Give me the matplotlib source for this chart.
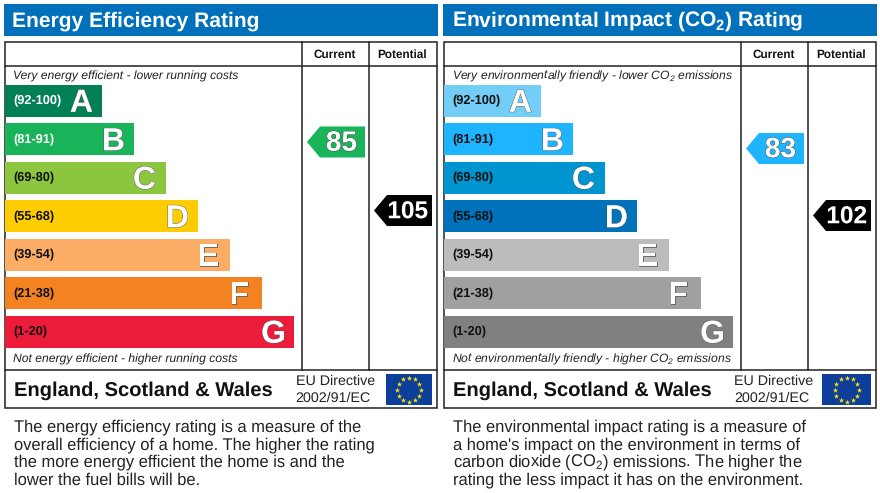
import matplotlib
matplotlib.use("Agg")
import matplotlib.pyplot as plt
import matplotlib.patheffects as pe
from matplotlib.patches import Polygon, Rectangle
import numpy as np

plt.rcParams["font.family"] = ["Liberation Sans", "DejaVu Sans"]
plt.rcParams["mathtext.default"] = "regular"
plt.rcParams["text.hinting"] = "none"

bands = ["(92-100)", "(81-91)", "(69-80)", "(55-68)", "(39-54)", "(21-38)", "(1-20)"]
letters = ["A", "B", "C", "D", "E", "F", "G"]
band_lengths = [97, 129, 161, 193, 225, 257, 289]
energy_colors = ["#008054", "#19b459", "#8cc63f", "#fecd00", "#fbad66", "#f58220", "#ed1b3a"]
enviro_colors = ["#72cef6", "#1fb4ff", "#0095d0", "#0072bc", "#bcbcbc", "#a0a0a0", "#808080"]

energy_current = 85
energy_potential = 105
enviro_current = 83
enviro_potential = 102

energy_notes = [
    "The energy efficiency rating is a measure of the",
    "overall efficiency of a home. The higher the rating",
    "the more energy efficient the home is and the",
    "lower the fuel bills will be.",
]
enviro_notes = [
    "The environmental impact rating is a measure of",
    "a home's impact on the environment in terms of",
    "carbon dioxide (CO$_2$) emissions. The higher the",
    "rating the less impact it has on the environment.",
]

LINE = "#222222"


def arrow(ax, x0, x1, y, value, color, outline):
    # pointed tag, tip on the left
    h = 15.5
    pts = [(x0, y), (x0 + 13, y - h), (x1, y - h), (x1, y + h), (x0 + 13, y + h)]
    ax.add_patch(Polygon(pts, closed=True, fc=color, ec="none", zorder=3))
    # three digit numbers are squeezed in the reference
    size, pad = (20.2, 8) if value < 100 else (17.6, 4)
    ax.text(x1 - pad, y + 1.5, str(value), color="white", fontsize=size, fontweight="bold",
            ha="right", va="center", zorder=4,
            path_effects=[pe.withStroke(linewidth=0.6, foreground=outline)])


def eu_flag(ax, x0, x1, y0, y1):
    ax.add_patch(Rectangle((x0, y0), x1 - x0, y1 - y0, fc="#0d3f9a", ec="none", zorder=3))
    cx, cy = (x0 + x1) / 2, (y0 + y1) / 2
    ang = np.deg2rad(np.arange(0, 360, 30))
    ax.scatter(cx + 12 * np.cos(ang), cy + 12 * np.sin(ang), marker="*", s=16,
               c="#ffe600", linewidths=0, zorder=4)


def panel(ax, x0, title, colors, top_note, bottom_note, cur, pot, cur_y, pot_y, notes, flag_x, note_size):
    ax.add_patch(Rectangle((x0 - 1, 4), 434, 32, fc="#0070ba", ec="none"))
    ax.text(x0 + 8, 21, title, color="white", fontsize=15.1, fontweight="bold",
            ha="left", va="center")

    ax.add_patch(Rectangle((x0, 42), 432, 366, fc="white", ec=LINE, lw=1.1))
    ax.plot([x0, x0 + 432], [66, 66], color=LINE, lw=1.1)
    ax.plot([x0, x0 + 432], [370, 370], color=LINE, lw=1.1)
    ax.plot([x0 + 297.5, x0 + 297.5], [42, 370], color=LINE, lw=1.1)
    ax.plot([x0 + 364.5, x0 + 364.5], [42, 370], color=LINE, lw=1.1)
    ax.text(x0 + 330, 54.5, "Current", fontsize=8.5, fontweight="bold", ha="center", va="center", color="#111111")
    ax.text(x0 + 398, 54.5, "Potential", fontsize=8.5, fontweight="bold", ha="center", va="center", color="#111111")

    ax.text(x0 + 8.5, 76, top_note, fontsize=note_size, style="italic", ha="left", va="center", color="#222222")
    ax.text(x0 + 8.5, 359.5, bottom_note, fontsize=note_size, style="italic", ha="left", va="center", color="#222222")

    ys = 100.5 + 38.5 * np.arange(len(bands))
    ax.barh(ys, band_lengths, left=x0 + 0.5, height=32, color=colors, zorder=2)
    letter_pad = [9, 9, 10, 9, 11, 13, 8]
    for i, y in enumerate(ys):
        end = x0 + 0.5 + band_lengths[i]
        label_color = "white" if colors is energy_colors and i < 2 else "#111111"
        ax.text(x0 + 9, y + 0.5, bands[i], color=label_color, fontsize=9.2, fontweight="bold",
                ha="left", va="center", zorder=3)
        ax.text(end - letter_pad[i], y + 3, letters[i], color="white", fontsize=23, fontweight="bold",
                ha="right", va="center", zorder=3,
                path_effects=[pe.withStroke(linewidth=0.6, foreground="#555555")])

    arrow(ax, x0 + 302.5, x0 + 360.5, cur_y, cur, colors[1], "#444444")
    arrow(ax, x0 + 369.5, x0 + 427.5, pot_y, pot, "black", "black")

    ax.text(x0 + 9.5, 390.5, "England, Scotland & Wales", fontsize=14.5, fontweight="bold",
            ha="left", va="center", color="#111111")
    ax.text(x0 + 291, 381.5, "EU Directive", fontsize=10.3, ha="left", va="center", color="#222222")
    ax.text(x0 + 291, 398, "2002/91/EC", fontsize=10.3, ha="left", va="center", color="#222222")
    eu_flag(ax, flag_x[0], flag_x[1], 374, 405)

    for i, line in enumerate(notes):
        ax.text(x0 + 9.5, 427 + 17.7 * i, line, fontsize=11.9, ha="left", va="center", color="#222222")


fig = plt.figure(figsize=(8.8, 4.93), dpi=100)
ax = fig.add_axes([0, 0, 1, 1])
ax.set_xlim(0, 880)
ax.set_ylim(493, 0)
ax.axis("off")

panel(ax, 4.5, "Energy Efficiency Rating", energy_colors,
      "Very energy efficient - lower running costs",
      "Not energy efficient - higher running costs",
      energy_current, energy_potential, 142, 210.5, energy_notes, (386, 432), 8.75)
panel(ax, 443.5, "Environmental Impact (CO$_2$) Rating", enviro_colors,
      "Very environmentally friendly - lower CO$_2$ emissions",
      "Not environmentally friendly - higher CO$_2$ emissions",
      enviro_current, enviro_potential, 148.5, 215.5, enviro_notes, (822, 871), 8.7)

fig.savefig("out.png", dpi=100)
